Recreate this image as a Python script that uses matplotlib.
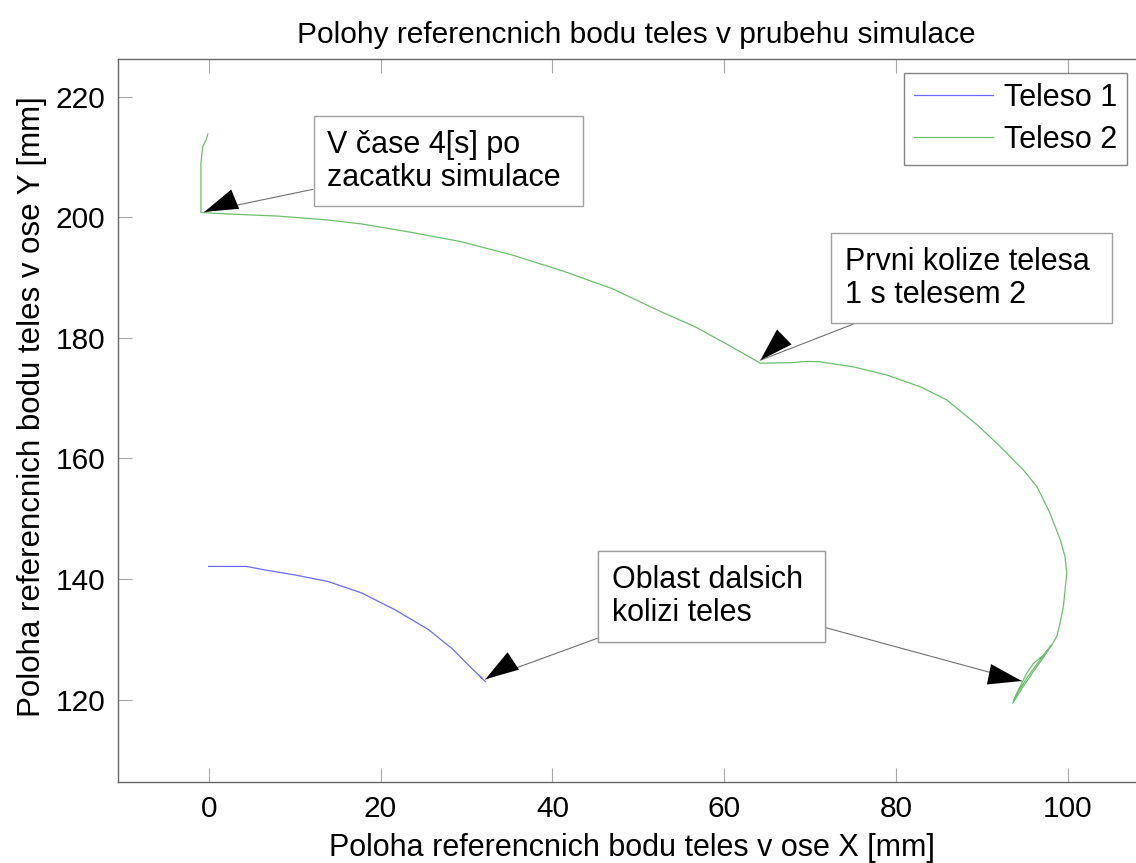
import numpy as np
import matplotlib
matplotlib.use("Agg")
import matplotlib.pyplot as plt

plt.rcParams['font.family'] = ['Liberation Sans', 'DejaVu Sans']

# Teleso 1 (blue) - poloha referencniho bodu [mm]
t1_x = [0.0, 4.4, 6.6, 10.0, 13.9, 17.8, 21.7, 25.6, 28.3, 30.6, 31.8, 31.6, 32.2]
t1_y = [142.1, 142.1, 141.5, 140.7, 139.6, 137.7, 134.9, 131.6, 128.5, 125.2, 123.6, 123.8, 123.0]

# Teleso 2 (green)
t2_x = [-0.1, -0.3, -0.7, -0.9, -0.9, -0.9, 2.3, 8.1, 13.9, 17.8, 23.6, 29.4, 35.3,
        41.1, 46.9, 52.7, 56.6, 60.5, 64.2, 68.0, 69.5, 71.1, 75.0, 78.9, 82.8,
        85.9, 89.4, 92.1, 94.8, 96.4, 97.9, 99.1, 99.65, 99.85, 99.65, 99.45,
        99.07, 98.68, 98.1, 97.13, 95.96, 95.19, 94.61, 94.03, 93.56,
        94.65, 95.93, 97.09, 98.1, 96.74, 95.35, 94.19, 93.7]
t2_y = [213.8, 212.8, 211.7, 209.0, 204.5, 200.8, 200.55, 200.2, 199.55, 198.9, 197.5,
        195.95, 193.75, 191.15, 188.2, 184.3, 181.85, 178.8, 175.8, 175.9, 176.1,
        176.05, 175.2, 173.85, 171.9, 169.7, 165.6, 162.0, 158.1, 155.3, 150.9,
        146.5, 143.7, 141.0, 138.2, 135.4, 132.7, 130.45, 129.1, 127.4, 126.0,
        124.4, 122.7, 121.1, 119.4, 121.9, 124.6, 126.9, 129.1, 126.6, 123.9,
        121.3, 120.0]

labels = ['Teleso 1', 'Teleso 2']
x_ticks = [0, 20, 40, 60, 80, 100]
y_ticks = [120, 140, 160, 180, 200, 220]

W, H = 1136, 863
fig = plt.figure(figsize=(W / 100, H / 100), dpi=100)
ax = fig.add_axes([118 / W, (H - 782) / H, (1154 - 118) / W, (782 - 59.5) / H])

ax.plot(t1_x, t1_y, color='#6a6aff', lw=0.9, label=labels[0])
ax.plot(t2_x, t2_y, color='#6cbf6c', lw=0.9, label=labels[1])

ax.set_xlim(-10.55, 110.0)
ax.set_ylim(106.35, 226.17)
ax.set_xticks(x_ticks)
ax.set_yticks(y_ticks)
ax.tick_params(direction='in', length=10, width=0.8, color='#a8a8a8',
               labelsize=21.5, top=True, right=True, pad=9)
for s in ax.spines.values():
    s.set_color('#666666')
    s.set_linewidth(1.0)

ax.set_title('Polohy referencnich bodu teles v prubehu simulace', fontsize=21.5, pad=12)
ax.set_xlabel('Poloha referencnich bodu teles v ose X [mm]', fontsize=22)
ax.set_ylabel('Poloha referencnich bodu teles v ose Y [mm]', fontsize=22.5)
ax.xaxis.set_label_coords(0.496, -0.071)
ax.yaxis.set_label_coords(-0.069, 0.52)

leg = ax.legend(loc='upper left', bbox_to_anchor=(904 / W, (H - 73) / H),
                bbox_transform=fig.transFigure, fontsize=22, frameon=True,
                fancybox=False, edgecolor='#666666', handlelength=2.6,
                handletextpad=0.35, borderpad=0.32, labelspacing=0.4, borderaxespad=0)
leg.get_frame().set_linewidth(1.0)

box = dict(boxstyle='square,pad=0.45', fc='white', ec='#a0a0a0', lw=1.0)
line = dict(arrowstyle='-', color='#707070', lw=0.8, shrinkA=0, shrinkB=0)
head = dict(arrowstyle='-|>,head_length=2.4,head_width=0.75', mutation_scale=10,
            fc='black', ec='black', lw=0, shrinkA=0, shrinkB=0)

notes = [
    ('V čase 4[s] po\nzacatku simulace ', (13.8, 209.3), [(-0.5, 200.9)]),
    ('Prvni kolize telesa \n1 s telesem 2', (74.0, 189.9), [(64.2, 176.3)]),
    ('Oblast dalsich \nkolizi teles', (46.9, 137.1), [(32.2, 123.4), (94.6, 123.1)]),
]
for txt, pos, tips in notes:
    for tip in tips:
        ax.annotate(txt, xy=tip, xytext=pos, fontsize=22, va='center', ha='left',
                    linespacing=1.12, bbox=box, arrowprops=line)
        ax.annotate('', xy=tip, xytext=pos, arrowprops=head)

fig.savefig('out.png', dpi=100)
